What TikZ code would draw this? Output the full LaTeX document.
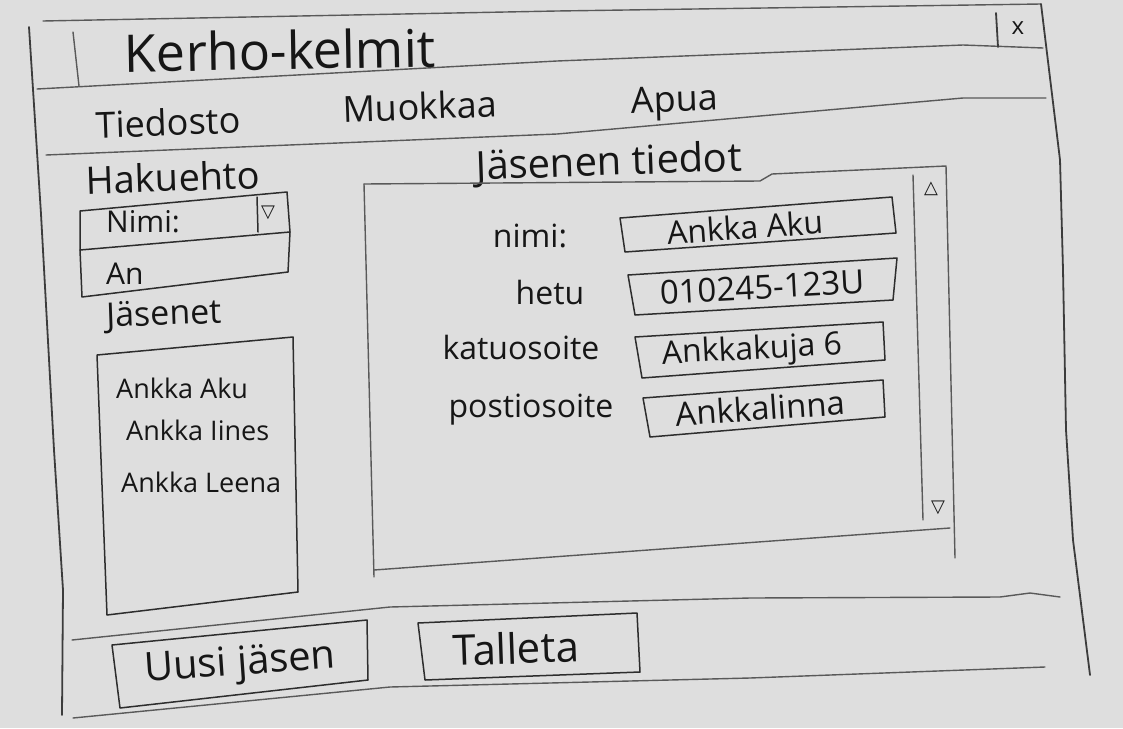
\documentclass[tikz,border=0pt]{standalone}
\usepackage{fontspec}
\setmainfont{Open Sans}
\newfontfamily\symfont{DejaVu Sans}
\usetikzlibrary{positioning,calc}
\definecolor{paper}{RGB}{222,222,222}
\definecolor{pencil}{RGB}{60,60,60}
\definecolor{ink}{RGB}{22,22,22}

\begin{document}
\begin{tikzpicture}[
    x=1pt, y=-1pt,
    frame/.style={draw=pencil, line width=1.8pt, line cap=round, line join=round},
    rule/.style={draw=pencil!85, line width=1.4pt, line cap=round, line join=round},
    field/.style={draw=ink!90, line width=1.5pt, line cap=round, line join=round},
    hand/.style={text=ink, inner sep=0pt, font=\fontsize{#1}{#1}\selectfont},
    hand/.default=30,
    sym/.style={text=ink, inner sep=0pt, font=\symfont\fontsize{#1}{#1}\selectfont},
    sym/.default=18
  ]
    \useasboundingbox[fill=paper] (0,0) rectangle (1123,728);

    % Window
    \draw[frame] (29,27) -- (41,214) -- (54,450) -- (63,590) -- (62,715);
    \draw[rule] (43,21) -- (557,11) -- (1041,4);
    \draw[frame] (1041,4) -- (1060,160) -- (1063,270) -- (1066,430) -- (1073,540) -- (1090,675);
    \draw[rule] (37,89) -- (557,61) -- (963,45) -- (1043,48);
    \draw[rule] (73,32) -- (79,86);
    \draw[frame] (996,13) -- (998,47);
    \draw[rule] (46,155) -- (557,134) -- (963,98) -- (1046,98);
    \draw[rule] (72,640) -- (390,607) -- (750,598) -- (1000,597) -- (1030,593) -- (1060,597);
    \draw[rule] (73,718) -- (390,687) -- (750,678) -- (1045,667);

    % Title bar and menu
    \node[hand=52, rotate=1] (title) at (280,50) {Kerho-kelmit};
    \node[hand=24] (close) at (1018,28) {x};
    \node[hand=36, rotate=2] (mfile) at (168,122) {Tiedosto};
    \node[hand=36, rotate=2] (medit) at (420,106) {Muokkaa};
    \node[hand=36, rotate=2] (mhelp) at (675,103) {Apua};

    % Search pane
    \node[hand=38, rotate=2] (crit) at (173,177) {Hakuehto};
    \draw[field] (80,211) -- (287,192) -- (290,232) -- (80,250) -- cycle;
    \draw[field] (257,197) -- (258,232);
    \draw[field] (80,250) -- (82,297) -- (288,272) -- (290,232);
    \node[hand, anchor=west] (critval) at (106,222) {Nimi:};
    \node[sym] (drop) at (268,213) {▽};
    \node[hand, anchor=west] (search) at (106,274) {An};
    \node[hand=34, anchor=west, rotate=2] (members) at (106,318) {Jäsenet};
    \draw[field] (97,355) -- (293,337) -- (298,592) -- (107,615) -- cycle;
    \node[hand=27, anchor=west] (m1) at (116,388) {Ankka Aku};
    \node[hand=27, anchor=west] (m2) at (126,430) {Ankka Iines};
    \node[hand=27, anchor=west] (m3) at (121,482) {Ankka Leena};

    % Member panel
    \node[hand=40, rotate=2] (ptitle) at (609,164) {Jäsenen tiedot};
    \draw[rule] (364,184) -- (760,181) -- (772,174) -- (946,166) -- (955,558);
    \draw[rule] (364,184) -- (374,577);
    \draw[rule] (374,570) -- (950,528);
    \draw[rule] (913,175) -- (923,520);
    \node[sym] (up) at (931,189) {△};
    \node[sym] (down) at (938,508) {▽};

    % Fields
    \node[hand=32] (lname) at (530,236) {nimi:};
    \node[hand=32] (lhetu) at (550,292) {hetu};
    \node[hand=32] (lstreet) at (521,347) {katuosoite};
    \node[hand=32] (lpost) at (531,410) {postiosoite};
    \draw[field] (620,218) -- (892,197) -- (896,233) -- (625,252) -- cycle;
    \draw[field] (628,275) -- (897,258) -- (893,300) -- (635,315) -- cycle;
    \draw[field] (635,337) -- (883,322) -- (885,360) -- (642,378) -- cycle;
    \draw[field] (643,398) -- (883,380) -- (885,417) -- (650,437) -- cycle;
    \node[hand=32, rotate=4] (vname) at (745,227) {Ankka Aku};
    \node[hand=33, rotate=3] (vhetu) at (762,287) {010245-123U};
    \node[hand=32, rotate=3] (vstreet) at (752,351) {Ankkakuja 6};
    \node[hand=33, rotate=4] (vpost) at (760,408) {Ankkalinna};

    % Buttons
    \draw[field] (112,645) -- (367,620) -- (368,680) -- (120,708) -- cycle;
    \draw[field] (418,623) -- (637,613) -- (640,672) -- (425,680) -- cycle;
    \node[hand=40, rotate=4] (bnew) at (240,665) {Uusi jäsen};
    \node[hand=42, rotate=2] (bsave) at (516,648) {Talleta};

\end{tikzpicture}
\end{document}
